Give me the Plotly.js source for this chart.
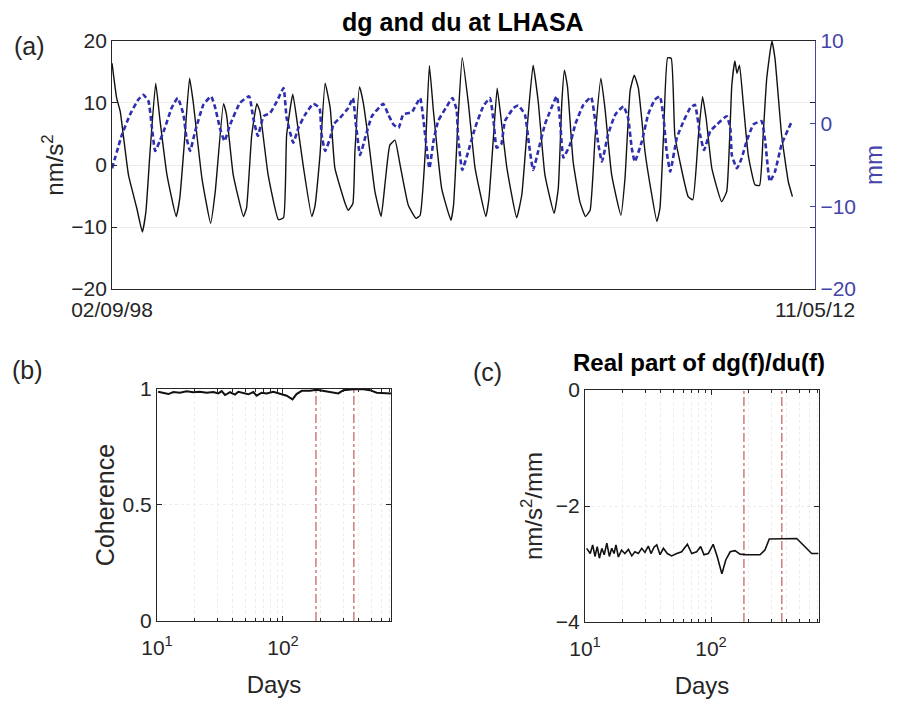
<!DOCTYPE html>
<html>
<head>
<meta charset="utf-8">
<script src="https://cdn.plot.ly/plotly-3.0.1.min.js"></script>
<style>html,body{margin:0;padding:0;background:#fff;}#chart{width:897px;height:702px;}</style>
</head>
<body>
<div id="chart"></div>
<script>
// ---- Panel (a): time series (time in years since 02/09/98) ----
const dateTickVals = [0, 13.69];
const dateTickText = ['02/09/98', '11/05/12'];

const tDg = [0.00,0.09,0.16,0.32,0.48,0.59,0.66,0.74,0.85,0.93,1.07,1.25,1.32,1.42,1.51,1.58,1.75,1.92,2.01,2.17,2.23,2.36,2.56,2.62,2.72,2.82,2.88,3.04,3.24,3.34,
  3.40,3.52,3.63,3.73,3.89,3.95,4.05,4.15,4.25,4.34,4.54,4.60,4.69,4.73,4.82,4.89,4.99,5.12,5.24,5.32,5.41,5.51,5.61,5.77,5.92,6.00,6.10,6.18,6.26,6.42,6.60,6.65,6.74,
  6.82,6.94,7.07,7.28,7.34,7.43,7.50,7.56,7.69,7.88,7.98,8.11,8.20,8.30,8.43,8.61,8.69,8.76,8.81,8.87,8.98,9.11,9.22,9.31,9.41,9.52,9.60,9.73,9.91,9.99,10.09,
  10.17,10.25,10.38,10.49,10.61,10.67,10.74,10.82,10.89,10.96,11.06,11.22,11.31,11.42,11.50,11.57,11.68,11.87,11.97,12.07,12.13,12.17,12.22,12.29,12.39,12.52,12.61,12.68,12.75,12.85,12.91,13.04,13.17,13.25];
const dg = [16.4,10.8,8.6,-1.6,-6.9,-10.8,-7.5,2.1,13.2,7.5,-1.6,-8.3,-5.3,4.8,14.0,10.2,-2.1,-9.4,-4.3,9.9,8.1,-1.6,-8.3,-6.9,4.8,9.9,8.6,-1.6,-8.8,-8.5,
  4.8,11.4,5.4,-0.5,-8.3,-6.7,1.6,13.2,9.1,-0.5,-6.2,-7.3,-6.2,2.1,12.6,10.2,4.3,-4.3,-8.3,-2.7,3.2,4.0,0.0,-6.5,-8.6,-8.1,2.1,16.0,8.6,-3.8,-8.9,-6.5,7.5,
  17.3,9.9,-0.5,-8.3,-5.4,4.8,12.4,8.6,-0.5,-8.5,-4.8,8.6,16.1,10.2,-1.6,-7.8,-3.8,10.2,15.3,12.6,0.5,-5.9,-8.3,-7.3,4.8,14.0,9.1,-1.6,-8.1,-2.1,12.0,
  14.5,12.4,2.1,-3.8,-9.1,-7.0,4.8,17.3,17.2,4.8,0.5,-5.1,-5.6,4.8,11.0,7.5,-0.5,-5.9,-4.3,12.9,16.8,14.8,16.1,10.2,1.6,-3.2,-3.3,4.8,14.0,20.0,17.2,4.8,-2.7,-5.1];

const tDu = [0.00,0.19,0.35,0.51,0.61,0.71,0.77,0.84,0.93,1.03,1.16,1.28,1.39,1.45,1.52,1.62,1.78,1.93,2.01,2.10,2.19,2.30,2.49,2.67,2.75,2.84,2.95,3.08,3.21,3.34,
  3.40,3.53,3.63,3.76,3.92,4.04,4.08,4.15,4.25,4.31,4.44,4.60,4.69,4.75,4.83,4.93,5.06,5.28,5.38,5.48,5.58,5.67,5.84,6.00,6.06,6.18,6.26,6.35,6.52,6.63,6.71,
  6.74,6.82,6.94,7.07,7.23,7.36,7.43,7.49,7.58,7.65,7.82,7.91,8.04,8.12,8.20,8.30,8.43,8.66,8.72,8.79,8.92,9.02,9.18,9.33,9.41,9.47,9.54,9.66,9.80,9.96,10.05,10.12,
  10.18,10.32,10.44,10.57,10.67,10.74,10.80,10.87,11.00,11.13,11.26,11.35,11.45,11.53,11.65,11.78,11.97,12.04,12.07,12.17,12.26,12.36,12.49,12.65,12.72,12.81,12.91,13.04,13.24];
const du = [-5.4,-1.4,1.1,2.9,3.5,2.7,-0.1,-3.3,-2.1,-0.5,1.9,3.1,1.1,-1.7,-3.3,-0.9,2.3,3.3,1.9,-0.5,-2.1,-0.1,2.5,3.3,0.7,-1.5,0.9,1.3,2.7,4.3,
  0.7,-2.3,-0.5,1.1,2.4,1.9,-1.3,-3.3,-1.7,-0.1,0.7,1.9,3.1,-0.1,-3.8,-1.7,0.9,2.4,1.1,-0.1,-0.5,1.1,1.4,3.1,0.7,-5.4,-2.1,0.3,2.1,3.1,1.7,
  -1.7,-5.6,-3.3,-0.5,2.1,3.1,0.3,-2.9,-2.5,0.3,1.9,2.2,1.1,-2.5,-5.6,-3.3,-0.1,3.3,0.7,-4.1,-2.5,-0.1,2.3,3.2,0.3,-2.5,-4.6,-1.3,1.1,2.1,0.7,-2.9,
  -4.6,-2.1,1.1,2.9,3.3,0.7,-3.3,-5.8,-1.7,0.3,1.9,2.3,-1.3,-3.2,-0.9,-0.1,0.9,-0.5,-3.8,-5.4,-4.2,-2.1,-0.1,0.3,-2.1,-7.0,-5.8,-2.5,0.3];

// ---- Panels (b), (c): period in days ----
const periodCoh = [10.2,11.2,12.3,13.5,15.2,17.2,19.4,21.9,24.8,28.0,30.7,32.6,34.7,38.0,41.6,44.2,48.5,53.1,58.2,61.8,67.7,74.2,83.8,94.6,107,119,128,141,164,185,215,251,275,301,362,434,490,554,645,719];
const coherence = [0.988,0.984,0.978,0.987,0.984,0.990,0.986,0.988,0.984,0.987,0.981,0.991,0.974,0.986,0.976,0.988,0.981,0.977,0.987,0.971,0.984,0.981,0.988,0.981,0.971,0.955,0.978,0.992,0.992,0.997,0.992,0.987,0.981,0.995,0.999,0.999,0.995,0.984,0.981,0.980];

const periodRe = [10.3,11.0,11.5,12.0,12.5,13.0,13.6,14.2,14.9,15.6,16.3,17.0,17.6,18.4,19.5,20.7,22.1,23.5,24.9,26.5,28.2,29.9,31.8,33.4,35.3,37.1,39.4,41.9,45.0,48.7,53.5,58.5,64.9,70.3,77.0,82.8,88.0,95.2,104,112,122,131,142,155,170,192,245,268,290,353,479,630,711];
const realPart = [-2.73,-2.82,-2.67,-2.87,-2.70,-2.90,-2.73,-2.84,-2.64,-2.87,-2.73,-2.82,-2.67,-2.88,-2.76,-2.82,-2.75,-2.86,-2.79,-2.82,-2.73,-2.80,-2.69,-2.82,-2.71,-2.67,-2.84,-2.73,-2.82,-2.86,-2.82,-2.79,-2.66,-2.82,-2.79,-2.70,-2.84,-2.82,-2.66,-2.87,-3.17,-2.93,-2.79,-2.77,-2.83,-2.84,-2.84,-2.76,-2.57,-2.57,-2.56,-2.82,-2.82];

const markPeriods = [182.6, 365.25];
const logTickVals = [10, 100];
const logTickText = ['10<sup>1</sup>', '10<sup>2</sup>'];
const minorVals = [20,30,40,50,60,70,80,90,200,300,400,500,600,700];

const FONT = 'Liberation Sans, Arial, Helvetica, sans-serif';
const AX = '#262626';
const BLUE = '#2e2eb0';
const BLUEAX = '#4444aa';
const RED = '#b53a3a';
const GRID = '#ececec';

const traces = [
  {x: tDg, y: dg, xaxis: 'x', yaxis: 'y', mode: 'lines', line: {color: '#111', width: 1.4, shape: 'spline', smoothing: 0.4}, hoverinfo: 'skip'},
  {x: tDu, y: du, xaxis: 'x', yaxis: 'y2', mode: 'lines', line: {color: BLUE, width: 2.6, dash: '5px,3px', shape: 'spline', smoothing: 0.4}, hoverinfo: 'skip'},
];
markPeriods.forEach(p => {
  traces.push({x: [p, p], y: [0, 1], xaxis: 'x2', yaxis: 'y3', mode: 'lines', line: {color: RED, width: 1, dash: 'dashdot'}, hoverinfo: 'skip'});
  traces.push({x: [p, p], y: [-4, 0], xaxis: 'x3', yaxis: 'y4', mode: 'lines', line: {color: RED, width: 1, dash: 'dashdot'}, hoverinfo: 'skip'});
});
traces.push({x: periodCoh, y: coherence, xaxis: 'x2', yaxis: 'y3', mode: 'lines', line: {color: '#111', width: 2}, hoverinfo: 'skip'});
traces.push({x: periodRe, y: realPart, xaxis: 'x3', yaxis: 'y4', mode: 'lines', line: {color: '#111', width: 1.6}, hoverinfo: 'skip'});

const tickFont = {family: FONT, size: 21, color: AX};
const titleFont = {family: FONT, size: 24, color: AX};

function logX(domain) {
  return {
    domain: domain, type: 'log', range: [1, 2.857],
    tickmode: 'array', tickvals: logTickVals, ticktext: logTickText,
    ticks: 'inside', ticklen: 5, tickcolor: AX, showline: true, linecolor: AX, linewidth: 1, mirror: 'ticks',
    showgrid: true, gridcolor: GRID, griddash: 'dot', zeroline: false,
    tickfont: tickFont, ticklabelstandoff: 8,
    minor: {tickmode: 'array', tickvals: minorVals, ticks: 'inside', ticklen: 3, tickcolor: AX, showgrid: true, gridcolor: GRID, griddash: 'dot'},
    title: {text: 'Days', font: titleFont, standoff: 18}
  };
}

const xa2 = logX([0.1750, 0.4359]); xa2.anchor = 'y3';
const xa3 = logX([0.6522, 0.9130]); xa3.anchor = 'y4';

const ann = (text, x, y, size, color) => ({text: text, xref: 'paper', yref: 'paper', x: x, y: y, xanchor: 'center', yanchor: 'middle', showarrow: false, font: {family: FONT, size: size, color: color}});

const layout = {
  width: 897, height: 702,
  margin: {l: 0, r: 0, t: 0, b: 0},
  paper_bgcolor: '#fff', plot_bgcolor: '#fff',
  showlegend: false,
  font: {family: FONT, color: AX},
  xaxis: {
    domain: [0.1249, 0.9086], anchor: 'y', range: [0, 13.69],
    tickmode: 'array', tickvals: dateTickVals, ticktext: dateTickText,
    ticks: '', showline: true, linecolor: AX, linewidth: 1, mirror: true,
    showgrid: false, zeroline: false, tickfont: tickFont, ticklabelstandoff: 2
  },
  yaxis: {
    domain: [0.5883, 0.9416], anchor: 'x', range: [-20, 20],
    tickmode: 'array', tickvals: [-20, -10, 0, 10, 20],
    ticks: 'inside', ticklen: 5, tickcolor: AX, showline: true, linecolor: AX, linewidth: 1, mirror: 'ticks',
    showgrid: true, gridcolor: GRID, zeroline: false, tickfont: tickFont,
    title: {text: 'nm/s<sup>2</sup>', font: titleFont, standoff: 0}
  },
  yaxis2: {
    overlaying: 'y', side: 'right', anchor: 'x', range: [-20, 10],
    tickmode: 'array', tickvals: [-20, -10, 0, 10],
    ticks: 'inside', ticklen: 5, tickcolor: BLUEAX, showline: true, linecolor: BLUEAX, linewidth: 1.2,
    showgrid: false, zeroline: false, tickfont: {family: FONT, size: 21, color: BLUEAX},
    title: {text: 'mm', font: {family: FONT, size: 24, color: BLUEAX}, standoff: 10}
  },
  xaxis2: xa2,
  yaxis3: {
    domain: [0.1154, 0.4459], anchor: 'x2', range: [0, 1],
    tickmode: 'array', tickvals: [0, 0.5, 1], ticktext: ['0', '0.5', '1'],
    ticks: 'inside', ticklen: 5, tickcolor: AX, showline: true, linecolor: AX, linewidth: 1, mirror: 'ticks',
    showgrid: true, gridcolor: GRID, griddash: 'dot', zeroline: false, tickfont: tickFont,
    title: {text: 'Coherence', font: {family: FONT, size: 25, color: AX}, standoff: 0}
  },
  xaxis3: xa3,
  yaxis4: {
    domain: [0.1140, 0.4444], anchor: 'x3', range: [-4, 0],
    tickmode: 'array', tickvals: [-4, -2, 0],
    ticks: 'inside', ticklen: 5, tickcolor: AX, showline: true, linecolor: AX, linewidth: 1, mirror: 'ticks',
    showgrid: true, gridcolor: GRID, griddash: 'dot', zeroline: false, tickfont: tickFont,
    title: {text: 'nm/s<sup>2</sup>/mm', font: titleFont, standoff: 6}
  },
  annotations: [
    ann('<b>dg and du at LHASA</b>', 0.516, 0.969, 25, '#000'),
    ann('<b>Real part of dg(f)/du(f)</b>', 0.779, 0.483, 24, '#000'),
    ann('(a)', 0.033, 0.934, 25, AX),
    ann('(b)', 0.031, 0.473, 25, AX),
    ann('(c)', 0.544, 0.470, 25, AX)
  ]
};

Plotly.newPlot('chart', traces, layout, {staticPlot: true, displayModeBar: false});
</script>
</body>
</html>
